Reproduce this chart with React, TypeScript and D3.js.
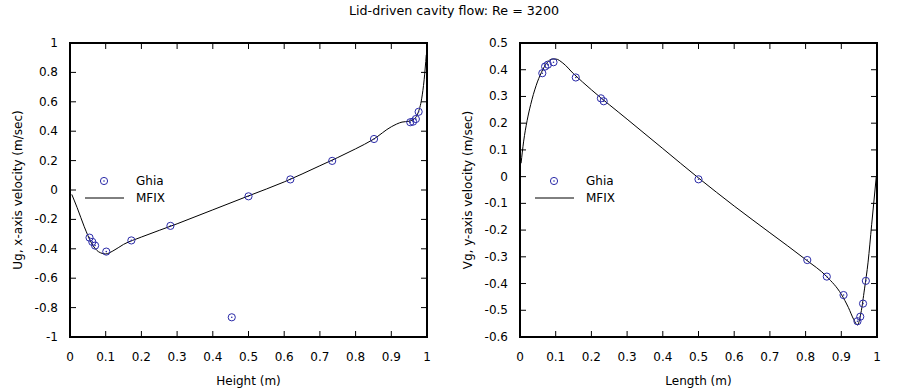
import * as d3 from "d3";

// Ghia et al. reference points, Re = 3200
const ghiaUy = [0.0547, 0.0625, 0.0703, 0.1016, 0.1719, 0.2813, 0.4531, 0.5, 0.6172, 0.7344, 0.8516, 0.9531, 0.9609, 0.9688, 0.9766];
const ghiaU = [-0.324, -0.353, -0.378, -0.419, -0.343, -0.244, -0.866, -0.043, 0.072, 0.198, 0.347, 0.461, 0.465, 0.483, 0.532];

const ghiaVx = [0.0625, 0.0703, 0.0781, 0.0938, 0.1563, 0.2266, 0.2344, 0.5, 0.8047, 0.8594, 0.9063, 0.9453, 0.9531, 0.9609, 0.9688];
const ghiaV = [0.387, 0.412, 0.419, 0.428, 0.371, 0.293, 0.282, -0.01, -0.312, -0.374, -0.443, -0.541, -0.524, -0.475, -0.39];

// MFIX profiles
const mfixUy = [0.005, 0.02, 0.04, 0.06, 0.08, 0.1, 0.12, 0.15, 0.2, 0.3, 0.4, 0.5, 0.6, 0.7, 0.8, 0.85, 0.9, 0.93, 0.95, 0.965, 0.975, 0.985, 0.992, 0.998];
const mfixU = [-0.03, -0.12, -0.25, -0.36, -0.42, -0.435, -0.415, -0.37, -0.32, -0.23, -0.135, -0.04, 0.055, 0.165, 0.28, 0.345, 0.43, 0.462, 0.468, 0.485, 0.525, 0.62, 0.75, 0.92];

const mfixVx = [0.003, 0.01, 0.02, 0.03, 0.045, 0.06, 0.075, 0.09, 0.1, 0.12, 0.15, 0.2, 0.3, 0.4, 0.5, 0.6, 0.7, 0.8, 0.86, 0.9, 0.92, 0.935, 0.945, 0.955, 0.965, 0.975, 0.985, 0.998];
const mfixV = [0.05, 0.13, 0.21, 0.27, 0.34, 0.39, 0.425, 0.44, 0.44, 0.425, 0.385, 0.325, 0.215, 0.105, -0.005, -0.11, -0.21, -0.31, -0.375, -0.44, -0.49, -0.535, -0.555, -0.51, -0.42, -0.32, -0.18, 0.0];

const xTicks = [0, 0.1, 0.2, 0.3, 0.4, 0.5, 0.6, 0.7, 0.8, 0.9, 1];
const uTicks = [-1, -0.8, -0.6, -0.4, -0.2, 0, 0.2, 0.4, 0.6, 0.8, 1];
const vTicks = [-0.6, -0.5, -0.4, -0.3, -0.2, -0.1, 0, 0.1, 0.2, 0.3, 0.4, 0.5];

const TOP = 43;
const BOTTOM = 337;
const FONT = "DejaVu Sans, sans-serif";
const BLUE = "#2a2aa8";

type PanelProps = {
  left: number;
  right: number;
  yDomain: [number, number];
  yTicks: number[];
  px: number[];
  py: number[];
  lx: number[];
  ly: number[];
  xLabel: string;
  yLabel: string;
};

function Panel({ left, right, yDomain, yTicks, px, py, lx, ly, xLabel, yLabel }: PanelProps) {
  const x = d3.scaleLinear().domain([0, 1]).range([left, right]);
  const y = d3.scaleLinear().domain(yDomain).range([BOTTOM, TOP]);
  const line = d3
    .line<number>()
    .x((_, i) => x(lx[i]))
    .y((d) => y(d))
    .curve(d3.curveMonotoneX);
  const fmt = (v: number) => String(+v.toFixed(2));
  const T = 6;

  return (
    <g>
      {xTicks.map((t) => (
        <g key={"x" + t}>
          {t > 0 && t < 1 && (
            <>
              <line x1={x(t)} x2={x(t)} y1={BOTTOM} y2={BOTTOM - T} stroke="#000" />
              <line x1={x(t)} x2={x(t)} y1={TOP} y2={TOP + T} stroke="#000" />
            </>
          )}
          <text x={x(t)} y={361} textAnchor="middle" fontSize={12} fontFamily={FONT} fill="#000">
            {fmt(t)}
          </text>
        </g>
      ))}
      {yTicks.map((t) => (
        <g key={"y" + t}>
          <line x1={left} x2={left + T} y1={y(t)} y2={y(t)} stroke="#000" />
          <line x1={right} x2={right - T} y1={y(t)} y2={y(t)} stroke="#000" />
          <text x={left - 12} y={y(t) + 4} textAnchor="end" fontSize={12} fontFamily={FONT} fill="#000">
            {fmt(t)}
          </text>
        </g>
      ))}
      <path d={line(ly) || ""} fill="none" stroke="#000" strokeWidth={1} />
      {px.map((v, i) => (
        <g key={"p" + i}>
          <circle cx={x(v)} cy={y(py[i])} r={3.6} fill="none" stroke={BLUE} strokeWidth={1} />
          <circle cx={x(v)} cy={y(py[i])} r={0.8} fill={BLUE} />
        </g>
      ))}
      <rect x={left} y={TOP} width={right - left} height={BOTTOM - TOP} fill="none" stroke="#000" strokeWidth={2} />
      {/* legend */}
      <circle cx={left + 34} cy={181} r={3.6} fill="none" stroke={BLUE} strokeWidth={1} />
      <circle cx={left + 34} cy={181} r={0.8} fill={BLUE} />
      <text x={left + 66} y={185} fontSize={12} fontFamily={FONT} fill="#000">Ghia</text>
      <line x1={left + 15} x2={left + 54} y1={198} y2={198} stroke="#000" />
      <text x={left + 66} y={202} fontSize={12} fontFamily={FONT} fill="#000">MFIX</text>
      <text x={(left + right) / 2} y={385} textAnchor="middle" fontSize={12} fontFamily={FONT} fill="#000">
        {xLabel}
      </text>
      <text
        transform={`translate(${left - 48},${(TOP + BOTTOM) / 2}) rotate(-90)`}
        textAnchor="middle"
        fontSize={12}
        fontFamily={FONT}
        fill="#000"
      >
        {yLabel}
      </text>
    </g>
  );
}

export default function App() {
  return (
    <svg width={900} height={392} style={{ position: "absolute", left: 0, top: 0, background: "#fff" }}>
      <rect width={900} height={392} fill="#fff" />
      <text
        x={454}
        y={15}
        textAnchor="middle"
        fontSize={12}
        fontFamily={FONT}
        textLength={210}
        lengthAdjust="spacingAndGlyphs"
        fill="#000"
      >
        Lid-driven cavity flow: Re = 3200
      </text>
      <Panel
        left={70}
        right={427}
        yDomain={[-1, 1]}
        yTicks={uTicks}
        px={ghiaUy}
        py={ghiaU}
        lx={mfixUy}
        ly={mfixU}
        xLabel="Height (m)"
        yLabel="Ug, x-axis velocity (m/sec)"
      />
      <Panel
        left={520}
        right={877}
        yDomain={[-0.6, 0.5]}
        yTicks={vTicks}
        px={ghiaVx}
        py={ghiaV}
        lx={mfixVx}
        ly={mfixV}
        xLabel="Length (m)"
        yLabel="Vg, y-axis velocity (m/sec)"
      />
    </svg>
  );
}
